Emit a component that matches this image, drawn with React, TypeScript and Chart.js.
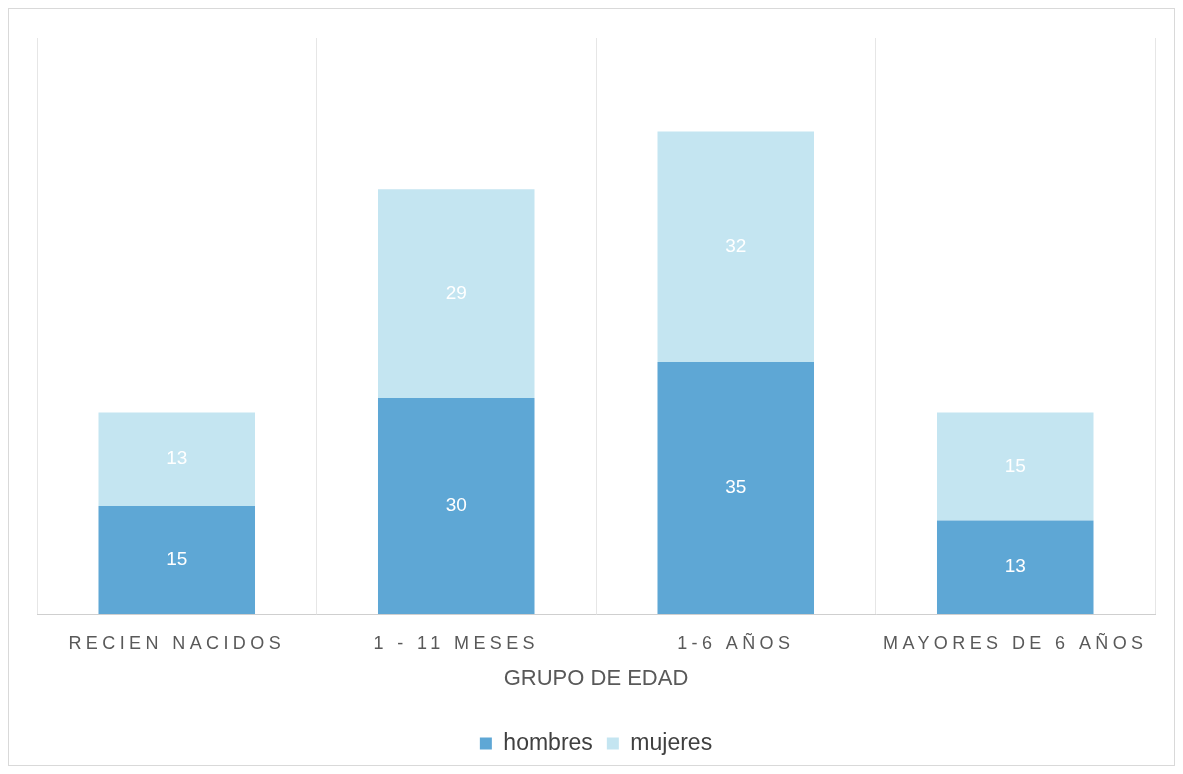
import React, { useEffect, useRef } from "react";
import { Chart, registerables } from "chart.js";

Chart.register(...registerables);

const categories = ["RECIEN NACIDOS", "1 - 11 MESES", "1-6 AÑOS", "MAYORES DE 6 AÑOS"];
const hombres = [15, 30, 35, 13];
const mujeres = [13, 29, 32, 15];
const axisTitle = "GRUPO DE EDAD";
const seriesNames = ["hombres", "mujeres"];

const FONT = "'Liberation Sans', Arial, sans-serif";

const valueLabels = {
  id: "valueLabels",
  afterDatasetsDraw(chart: any) {
    const ctx = chart.ctx;
    ctx.save();
    ctx.fillStyle = "#ffffff";
    ctx.font = `19px ${FONT}`;
    ctx.textAlign = "center";
    ctx.textBaseline = "middle";
    chart.data.datasets.forEach((ds: any, i: number) => {
      const meta = chart.getDatasetMeta(i);
      meta.data.forEach((bar: any, j: number) => {
        const p = bar.getProps(["x", "y", "base"], true);
        ctx.fillText(String(ds.data[j]), p.x, (p.y + p.base) / 2);
      });
    });
    ctx.restore();
  },
};

const spacedTicks = {
  id: "spacedTicks",
  beforeDraw(chart: any) {
    const s = chart.scales.x;
    if (s && !s.__spaced) {
      const orig = s.drawLabels.bind(s);
      s.drawLabels = (ca: any) => {
        const ctx = chart.ctx;
        ctx.save();
        (ctx as any).letterSpacing = "4.4px";
        orig(ca);
        ctx.restore();
      };
      s.__spaced = true;
    }
  },
};

export default function App() {
  const ref = useRef<HTMLCanvasElement>(null);
  useEffect(() => {
    if (!ref.current) return;
    const chart = new Chart(ref.current, {
      type: "bar",
      data: {
        labels: categories,
        datasets: [
          {
            label: seriesNames[0],
            data: hombres,
            backgroundColor: "#5ea7d5",
            barPercentage: 0.56,
            categoryPercentage: 1,
          },
          {
            label: seriesNames[1],
            data: mujeres,
            backgroundColor: "#c4e5f1",
            barPercentage: 0.56,
            categoryPercentage: 1,
          },
        ],
      },
      options: {
        animation: false,
        responsive: true,
        maintainAspectRatio: false,
        layout: { padding: { left: 28, right: 19, top: 29, bottom: 0 } },
        plugins: {
          tooltip: { enabled: false },
          legend: {
            position: "bottom",
            labels: {
              font: { family: FONT, size: 23 },
              color: "#404040",
              boxWidth: 12,
              boxHeight: 12,
              padding: 14,
            },
          },
        },
        scales: {
          x: {
            stacked: true,
            grid: { offset: true, color: "#e6e6e6", drawTicks: false },
            border: { color: "#cfcfcf" },
            ticks: {
              font: { family: FONT, size: 18 },
              color: "#595959",
              padding: 19,
              maxRotation: 0,
              autoSkip: false,
            },
            title: {
              display: true,
              text: axisTitle,
              font: { family: FONT, size: 22 },
              color: "#595959",
              padding: { top: -8, bottom: 26 },
            },
          },
          y: {
            stacked: true,
            display: false,
            min: 0,
            max: 80,
          },
        },
      },
      plugins: [valueLabels, spacedTicks],
    });
    return () => chart.destroy();
  }, []);
  return (
    <div
      style={{
        width: 1167,
        height: 758,
        border: "1px solid #d9d9d9",
        boxSizing: "border-box",
        background: "#fff",
      }}
    >
      <div style={{ position: "relative", width: "100%", height: "100%" }}>
        <canvas ref={ref} />
      </div>
    </div>
  );
}
